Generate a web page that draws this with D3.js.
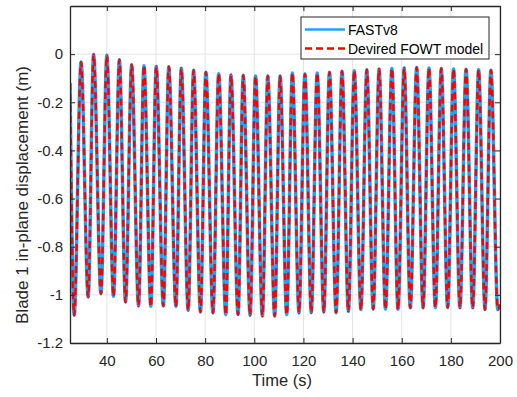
<!DOCTYPE html>
<html>
<head>
  <meta charset="utf-8">
  <script src="https://d3js.org/d3.v7.min.js"></script>
  <style>
    body { margin: 0; background: #fff; font-family: "Liberation Sans", Arial, sans-serif; }
    .tick text { font-size: 15px; fill: #262626; font-family: "Liberation Sans", Arial, sans-serif; }
    .axis-label { fill: #262626; text-anchor: middle; }
    .legend-text { font-size: 14px; fill: #000; }
  </style>
</head>
<body>
  <div id="chart"></div>
  <script>
    // extrema of the blade tip signal (time in s, displacement in m)
    const fastTime = [25, 26.7, 29.5, 32.4, 34.6, 37.6, 40.0, 42.7, 45.1, 47.6, 50.1, 52.9, 55.1, 57.9, 60.1,
      63.0, 65.2, 68.1, 70.3, 73.1, 75.3, 78.1, 80.3, 83.2, 85.5, 88.4, 90.5, 93.4, 95.5, 98.3, 100.5,
      103.3, 105.5, 108.3, 110.5, 113.2, 115.5, 118.2, 120.6, 123.2, 125.6, 128.3, 130.6, 133.3, 135.7,
      138.3, 140.7, 143.4, 145.8, 148.4, 150.8, 153.4, 156.0, 158.5, 161.0, 163.5, 166.1, 168.7, 171.1,
      173.7, 176.1, 178.7, 181.1, 183.7, 186.2, 188.9, 191.3, 193.9, 196.3, 199.1, 200];
    const fastDisp = [-0.12, -1.085, -0.033, -1.009, -0.002, -0.995, -0.005, -1.006, -0.023, -1.030, -0.044,
      -1.046, -0.048, -1.048, -0.051, -1.046, -0.052, -1.048, -0.059, -1.064, -0.067, -1.071, -0.075,
      -1.075, -0.081, -1.082, -0.087, -1.082, -0.088, -1.085, -0.091, -1.088, -0.091, -1.088, -0.091,
      -1.082, -0.078, -1.075, -0.083, -1.074, -0.078, -1.071, -0.075, -1.074, -0.071, -1.068, -0.069,
      -1.061, -0.065, -1.059, -0.062, -1.059, -0.060, -1.060, -0.058, -1.054, -0.056, -1.054, -0.058,
      -1.053, -0.060, -1.053, -0.062, -1.054, -0.063, -1.054, -0.065, -1.061, -0.067, -1.061, -1.04];
    const fowtTime = fastTime.slice();
    const fowtDisp = fastDisp.slice();

    const seriesNames = ["FASTv8", "Devired FOWT model"];
    const xTicks = [40, 60, 80, 100, 120, 140, 160, 180, 200];
    const yTicks = [-1.2, -1, -0.8, -0.6, -0.4, -0.2, 0];

    const W = 517, H = 397;
    const margin = {top: 6, right: 17, bottom: 54, left: 70};
    const width = W - margin.left - margin.right;
    const height = H - margin.top - margin.bottom;

    const svg = d3.select("#chart").append("svg")
      .attr("width", W).attr("height", H);
    const g = svg.append("g")
      .attr("transform", `translate(${margin.left},${margin.top})`);

    const x = d3.scaleLinear().domain([25, 200]).range([0, width]);
    const y = d3.scaleLinear().domain([-1.2, 0.2]).range([height, 0]);

    // grid
    g.append("g").selectAll("line").data(xTicks).join("line")
      .attr("x1", d => x(d)).attr("x2", d => x(d))
      .attr("y1", 0).attr("y2", height)
      .attr("stroke", "#e3e3e3").attr("stroke-width", 1);
    g.append("g").selectAll("line").data(yTicks).join("line")
      .attr("y1", d => y(d)).attr("y2", d => y(d))
      .attr("x1", 0).attr("x2", width)
      .attr("stroke", "#e3e3e3").attr("stroke-width", 1);

    g.append("clipPath").attr("id", "clip")
      .append("rect").attr("width", width).attr("height", height);

    const fast = fastTime.map((t, i) => [t, fastDisp[i]]);
    const fowt = fowtTime.map((t, i) => [t, fowtDisp[i]]);

    const line = d3.line()
      .x(d => x(d[0])).y(d => y(d[1]))
      .curve(d3.curveMonotoneX);

    const plot = g.append("g").attr("clip-path", "url(#clip)");
    plot.append("path").datum(fast)
      .attr("d", line).attr("fill", "none")
      .attr("stroke", "#1aa6f7").attr("stroke-width", 3.5);
    plot.append("path").datum(fowt)
      .attr("d", line).attr("fill", "none")
      .attr("stroke", "#ff0000").attr("stroke-width", 2.5)
      .attr("stroke-dasharray", "7,4");

    // axes (MATLAB-style box, ticks inward)
    g.append("g").attr("transform", `translate(0,${height})`)
      .call(d3.axisBottom(x).tickValues(xTicks).tickSizeInner(-5).tickSizeOuter(0).tickPadding(12));
    g.append("g")
      .call(d3.axisLeft(y).tickValues(yTicks).tickSizeInner(-5).tickSizeOuter(0).tickPadding(7)
        .tickFormat(d => String(d)));
    g.append("g").attr("transform", `translate(${width},0)`)
      .call(d3.axisRight(y).tickValues(yTicks).tickSizeInner(-5).tickSizeOuter(0).tickFormat(""));
    g.append("g")
      .call(d3.axisTop(x).tickValues(xTicks).tickSizeInner(-5).tickSizeOuter(0).tickFormat(""));
    g.selectAll(".domain").attr("stroke", "#262626").attr("stroke-width", 1.3);
    g.selectAll(".tick line").attr("stroke", "#262626");
    g.selectAll(".tick text").attr("font-size", 15);

    g.append("text").attr("class", "axis-label")
      .attr("font-size", 16.5)
      .attr("x", width / 2 - 3).attr("y", height + 43)
      .text("Time (s)");
    g.append("text").attr("class", "axis-label")
      .attr("font-size", 17)
      .attr("transform", "rotate(-90)")
      .attr("x", -189).attr("y", -42)
      .text("Blade 1 in-plane displacement (m)");

    // legend
    const lg = svg.append("g").attr("transform", "translate(301,17)");
    lg.append("rect").attr("width", 188).attr("height", 42)
      .attr("fill", "#fff").attr("stroke", "#262626").attr("stroke-width", 1);
    const styles = [
      {color: "#1aa6f7", w: 2.5, dash: null},
      {color: "#ff0000", w: 2.5, dash: "7,4"}
    ];
    seriesNames.forEach((name, i) => {
      const yy = 12.5 + i * 19;
      lg.append("line").attr("x1", 4).attr("x2", 44).attr("y1", yy).attr("y2", yy)
        .attr("stroke", styles[i].color).attr("stroke-width", styles[i].w)
        .attr("stroke-dasharray", styles[i].dash);
      lg.append("text").attr("class", "legend-text")
        .attr("x", 47).attr("y", yy + 5).text(name);
    });
  </script>
</body>
</html>
